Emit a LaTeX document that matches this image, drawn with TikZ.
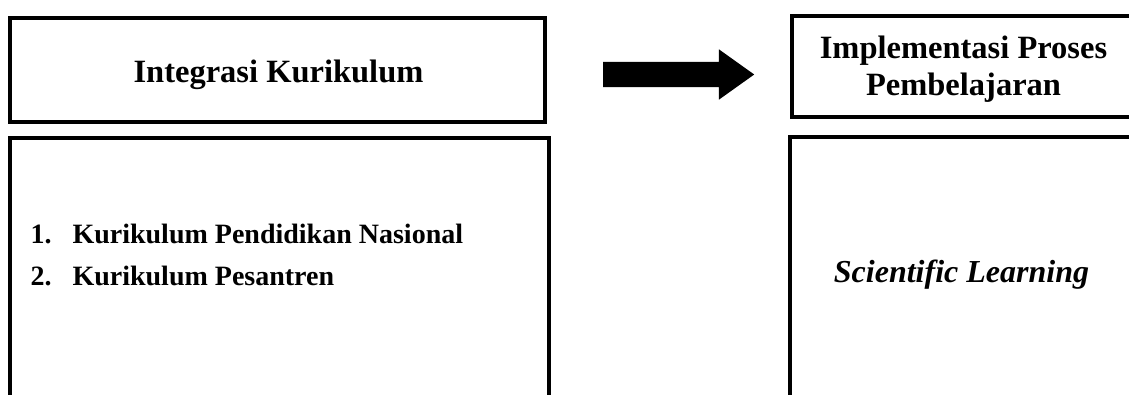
\documentclass[tikz,border=0pt]{standalone}
\usepackage{fontspec}
\setmainfont{Liberation Serif}
\usetikzlibrary{shapes.arrows}

\begin{document}
\begin{tikzpicture}[
    x=1pt, y=-1pt,
    frame/.style={draw=black, line width=4pt, inner sep=0pt},
    heading/.style={font=\fontsize{32.5}{37}\selectfont\bfseries, align=center, anchor=base},
]
  \useasboundingbox (0,0) rectangle (1129,394);
  \clip (0,0) rectangle (1129,394);

  % Left column
  \node[frame, minimum width=535pt, minimum height=104pt] (integ) at (277.5,70) {};
  \node[heading] (integtext) at (278.5,82) {Integrasi Kurikulum};
  \node[frame, minimum width=538.5pt, minimum height=312pt] (kurikulum) at (279.25,294) {};
  \node[anchor=base west, align=left, font=\fontsize{28}{42}\selectfont\bfseries] (kurlist) at (27,285)
    {\makebox[42pt][l]{1.}Kurikulum Pendidikan Nasional\\\makebox[42pt][l]{2.}Kurikulum Pesantren};

  % Arrow
  \node[single arrow, fill=black, anchor=tail, inner xsep=0pt, inner ysep=12.5pt, minimum height=151pt,
    single arrow head extend=12.5pt, single arrow tip angle=71] (shift) at (603,74.5) {};

  % Right column
  \node[frame, minimum width=343pt, minimum height=101pt] (impl) at (963.5,66.5) {};
  \node[heading] (impltext) at (963.5,95) {Implementasi Proses\\Pembelajaran};
  \node[frame, minimum width=345pt, minimum height=313pt] (scientific) at (962.5,293.5) {};
  \node[anchor=base, font=\fontsize{32}{37}\selectfont\bfseries\itshape] (scitext) at (961.5,282) {Scientific Learning};
\end{tikzpicture}
\end{document}
